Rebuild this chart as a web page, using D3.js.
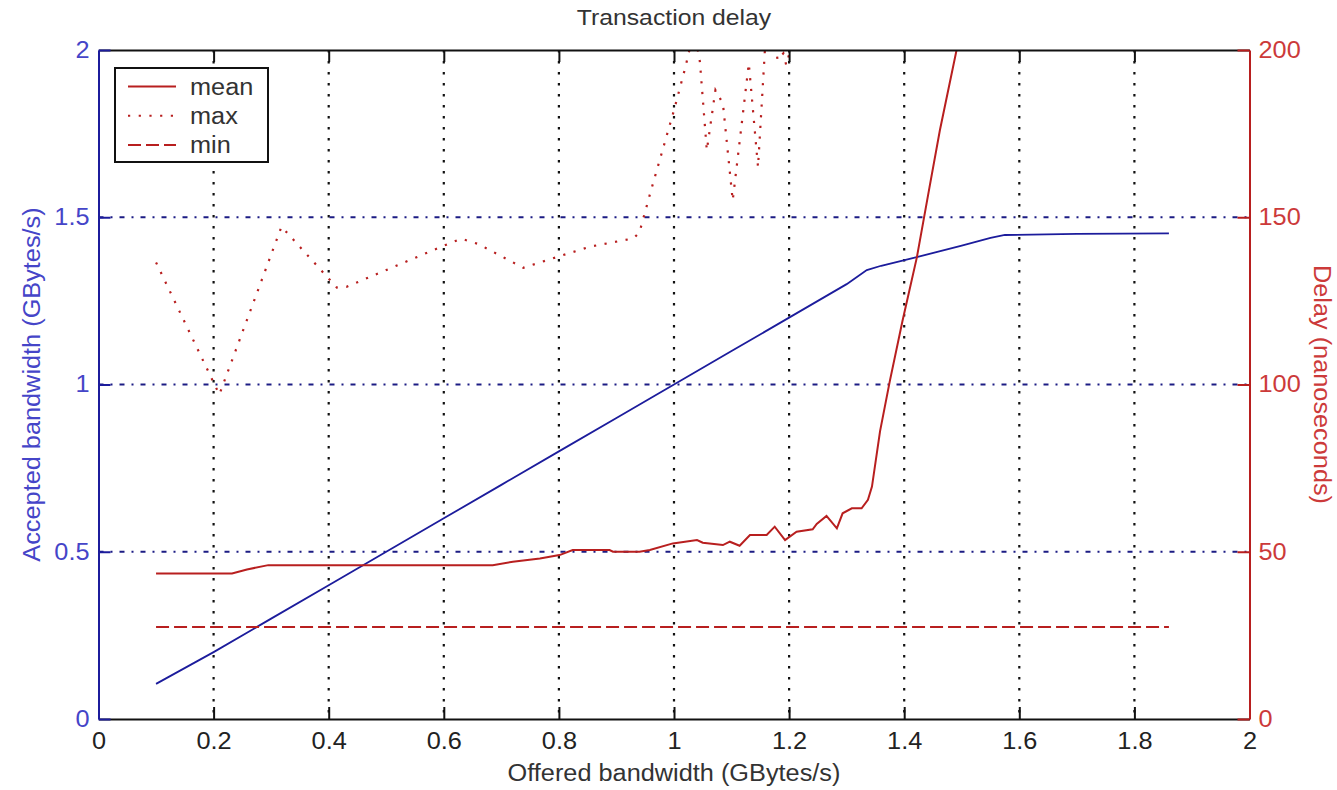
<!DOCTYPE html>
<html>
<head>
<meta charset="utf-8">
<script src="https://cdn.jsdelivr.net/npm/d3@7"></script>
<style>
  html, body { margin: 0; padding: 0; background: #fff; }
  svg { display: block; font-family: "Liberation Sans", Arial, Helvetica, sans-serif; }
</style>
</head>
<body>
<svg id="chart" width="1337" height="790"></svg>
<script>
// Offered vs. accepted bandwidth (left axis, GBytes/s)
const offered  = [0.1, 0.2, 0.3, 0.4, 0.5, 0.6, 0.7, 0.8, 0.9, 1.0, 1.1, 1.2, 1.3, 1.335, 1.36, 1.42, 1.5, 1.55, 1.575, 1.7, 1.86];
const accepted = [0.105, 0.2, 0.3, 0.4, 0.5, 0.6, 0.7, 0.8, 0.9, 1.0, 1.1, 1.2, 1.3, 1.342, 1.355, 1.38, 1.415, 1.438, 1.447, 1.45, 1.452];

// Transaction delay (right axis, nanoseconds)
const meanX     = [0.1, 0.232, 0.258, 0.295, 0.685, 0.72, 0.767, 0.801, 0.824, 0.888, 0.894, 0.94, 0.958, 0.998, 1.04, 1.05, 1.085, 1.097, 1.114, 1.132, 1.161, 1.175, 1.193, 1.213, 1.241, 1.248, 1.265, 1.283, 1.293, 1.309, 1.326, 1.337, 1.344, 1.358, 1.375, 1.397, 1.422, 1.444, 1.462, 1.491, 1.51];
const meanDelay = [43.5, 43.5, 44.7, 46, 46, 47, 48, 49, 50.5, 50.5, 50, 50, 50.5, 52.5, 53.5, 52.7, 52, 53, 51.8, 55, 55, 57.5, 53.5, 56, 56.7, 58.3, 60.7, 57, 61.5, 63, 63, 65.5, 69.5, 86, 101, 119, 138, 159, 176, 200, 212];

const maxX      = [0.1, 0.21, 0.318, 0.414, 0.431, 0.6, 0.63, 0.66, 0.738, 0.78, 0.854, 0.93, 0.94, 0.96, 1.0, 1.02, 1.035, 1.045, 1.057, 1.072, 1.085, 1.102, 1.13, 1.146, 1.16, 1.175, 1.18, 1.19, 1.195, 1.21, 1.27, 1.284, 1.3];
const maxDelay  = [136.5, 97, 147.2, 129, 129.2, 141.5, 143.6, 142, 134.9, 137.2, 141.2, 143.7, 145.5, 158, 182, 195, 206, 196.5, 170, 188, 184, 155, 196, 165, 206, 203, 197, 199, 195.5, 205, 208, 200, 210];

const minX      = [0.1, 1.86];
const minDelay  = [27.5, 27.5];

const xTicks     = [0, 0.2, 0.4, 0.6, 0.8, 1, 1.2, 1.4, 1.6, 1.8, 2];
const leftTicks  = [0, 0.5, 1, 1.5, 2];
const rightTicks = [0, 50, 100, 150, 200];
const legendLabels = ["mean", "max", "min"];

const W = 1337, H = 790;
const plot = { left: 98.5, right: 1249.5, top: 50, bottom: 719 };

const BLUE = "#1c1c9c", BLUE_TXT = "#4545c8", RED = "#b81f1f", RED_TXT = "#cc3a3a";
const FS = 23;
const WIDEN = 1.1;   // horizontal stretch applied to all labels

const svg = d3.select("#chart");
svg.append("rect").attr("width", W).attr("height", H).attr("fill", "#fff");

const x  = d3.scaleLinear().domain([0, 2]).range([plot.left, plot.right]);
const yL = d3.scaleLinear().domain([0, 2]).range([plot.bottom, plot.top]);
const yR = d3.scaleLinear().domain([0, 200]).range([plot.bottom, plot.top]);

svg.append("defs").append("clipPath").attr("id", "plotClip")
  .append("rect")
  .attr("x", plot.left).attr("y", plot.top)
  .attr("width", plot.right - plot.left).attr("height", plot.bottom - plot.top);

// Grid: vertical black dotted, horizontal blue dash-dot
const grid = svg.append("g");
grid.selectAll("line.vg").data(xTicks.filter(t => t > 0 && t < 2)).join("line")
  .attr("class", "vg")
  .attr("x1", d => x(d)).attr("x2", d => x(d))
  .attr("y1", plot.top).attr("y2", plot.bottom)
  .attr("stroke", "#111").attr("stroke-width", 2.2)
  .attr("stroke-dasharray", "2.5,8.5");
grid.selectAll("line.hg").data(leftTicks.filter(t => t > 0 && t < 2)).join("line")
  .attr("class", "hg")
  .attr("x1", plot.left).attr("x2", plot.right)
  .attr("y1", d => yL(d)).attr("y2", d => yL(d))
  .attr("stroke", "#1c1c84").attr("stroke-width", 2)
  .attr("stroke-dasharray", "5,7,2,7");

// Data lines
const lines = svg.append("g").attr("clip-path", "url(#plotClip)");

const acceptedLine = d3.line().x((d, i) => x(offered[i])).y(d => yL(d));
lines.append("path").datum(accepted)
  .attr("d", acceptedLine)
  .attr("fill", "none").attr("stroke", BLUE).attr("stroke-width", 1.8);

const delayLine = xs => d3.line().x((d, i) => x(xs[i])).y(d => yR(d));

lines.append("path").datum(minDelay)
  .attr("d", delayLine(minX))
  .attr("fill", "none").attr("stroke", RED).attr("stroke-width", 2)
  .attr("stroke-dasharray", "13,5");

lines.append("path").datum(maxDelay)
  .attr("d", delayLine(maxX))
  .attr("fill", "none").attr("stroke", RED).attr("stroke-width", 2.2)
  .attr("stroke-dasharray", "2.2,8.5");

lines.append("path").datum(meanDelay)
  .attr("d", delayLine(meanX))
  .attr("fill", "none").attr("stroke", RED).attr("stroke-width", 2);

// Axes (ticks point inward)
const fmt = d => String(d);

const bottomAxis = svg.append("g").attr("transform", `translate(0,${plot.bottom})`)
  .call(d3.axisBottom(x).tickValues(xTicks).tickFormat(fmt).tickSizeInner(-12).tickSizeOuter(0).tickPadding(14));
const topAxis = svg.append("g").attr("transform", `translate(0,${plot.top})`)
  .call(d3.axisTop(x).tickValues(xTicks).tickFormat("").tickSizeInner(-12).tickSizeOuter(0));
const leftAxis = svg.append("g").attr("transform", `translate(${plot.left},0)`)
  .call(d3.axisLeft(yL).tickValues(leftTicks).tickFormat(fmt).tickSizeInner(-12).tickSizeOuter(0).tickPadding(9));
const rightAxis = svg.append("g").attr("transform", `translate(${plot.right},0)`)
  .call(d3.axisRight(yR).tickValues(rightTicks).tickFormat(fmt).tickSizeInner(-12).tickSizeOuter(0).tickPadding(9));

[bottomAxis, topAxis].forEach(g => {
  g.select(".domain").attr("stroke", "#111").attr("stroke-width", 2);
  g.selectAll(".tick line").attr("stroke", "#111").attr("stroke-width", 2);
  g.selectAll(".tick text").attr("fill", "#222").attr("font-size", FS).attr("font-family", null);
});
topAxis.selectAll(".tick").filter(d => d === 0 || d === 2).remove();
bottomAxis.selectAll(".tick line").filter(d => d === 0 || d === 2).remove();

leftAxis.select(".domain").attr("stroke", BLUE).attr("stroke-width", 2);
leftAxis.selectAll(".tick line").attr("stroke", BLUE).attr("stroke-width", 2);
leftAxis.selectAll(".tick text").attr("fill", BLUE_TXT).attr("font-size", FS).attr("font-family", null);

rightAxis.select(".domain").attr("stroke", RED).attr("stroke-width", 2);
rightAxis.selectAll(".tick line").attr("stroke", RED).attr("stroke-width", 2);
rightAxis.selectAll(".tick text").attr("fill", RED_TXT).attr("font-size", FS).attr("font-family", null);

// Titles
svg.append("text")
  .attr("x", (plot.left + plot.right) / 2).attr("y", 25)
  .attr("text-anchor", "middle").attr("font-size", 22.5).attr("fill", "#333")
  .text("Transaction delay");

svg.append("text")
  .attr("x", (plot.left + plot.right) / 2).attr("y", 781)
  .attr("text-anchor", "middle").attr("font-size", FS).attr("fill", "#333")
  .text("Offered bandwidth (GBytes/s)");

svg.append("text")
  .attr("transform", `translate(40,${(plot.top + plot.bottom) / 2}) rotate(-90)`)
  .attr("text-anchor", "middle").attr("font-size", FS).attr("fill", BLUE_TXT)
  .text("Accepted bandwidth (GBytes/s)");

svg.append("text")
  .attr("transform", `translate(1314,${(plot.top + plot.bottom) / 2}) rotate(90)`)
  .attr("text-anchor", "middle").attr("font-size", FS).attr("fill", RED_TXT)
  .text("Delay (nanoseconds)");

// Legend
const legend = svg.append("g");
legend.append("rect")
  .attr("x", 115).attr("y", 68).attr("width", 153).attr("height", 94)
  .attr("fill", "#fff").attr("stroke", "#111").attr("stroke-width", 2);
const dashes = [null, "2.2,8.5", "13,5"];
legendLabels.forEach((lab, i) => {
  const yy = 86.5 + i * 29.3;
  legend.append("line")
    .attr("x1", 128).attr("x2", 176).attr("y1", yy).attr("y2", yy)
    .attr("stroke", RED).attr("stroke-width", 2)
    .attr("stroke-dasharray", dashes[i]);
  legend.append("text")
    .attr("x", 190).attr("y", yy).attr("dy", "0.35em")
    .attr("font-size", FS).attr("fill", "#333")
    .text(lab);
});

// Slightly wider lettering throughout
svg.selectAll("text").each(function () {
  const len = this.getComputedTextLength();
  if (len > 0) {
    d3.select(this).attr("textLength", len * WIDEN).attr("lengthAdjust", "spacingAndGlyphs");
  }
});
</script>
</body>
</html>
